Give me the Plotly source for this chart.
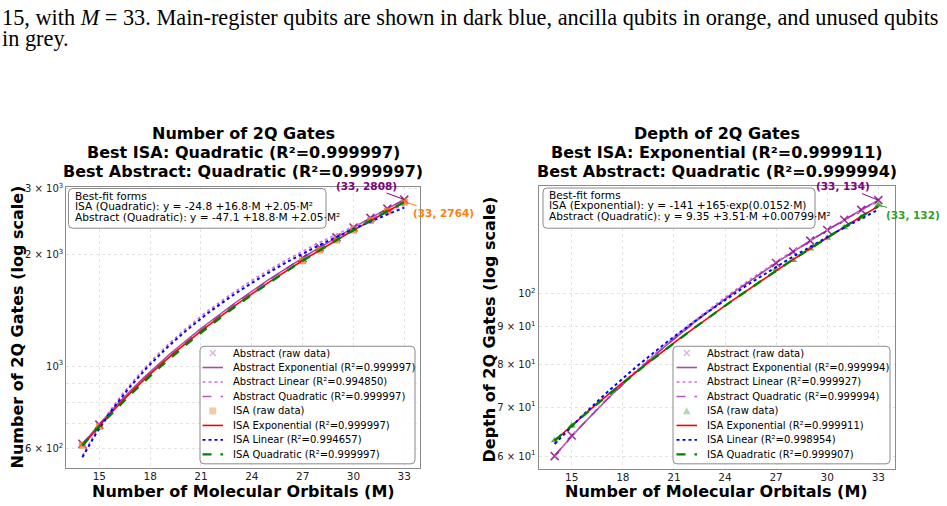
import numpy as np
import plotly.graph_objects as go

W, H = 947, 506

# ---------------- data ----------------
M = [14, 15, 27, 28, 29, 30, 31, 32, 33]
abstract_gates = [618, 696, 1955, 2087, 2222, 2362, 2506, 2654, 2808]
isa_gates = [612, 688, 1923, 2053, 2186, 2324, 2466, 2612, 2764]
abstract_depth = [60, 64, 110, 114, 118, 122, 126, 130, 134]
isa_depth = [63, 66, 108, 111, 115, 119, 123, 127, 132]

x_ticks = [15, 18, 21, 24, 27, 30, 33]
gates_ticks = [600, 1000, 2000, 3000]
gates_tick_text = ["6 × 10<sup>2</sup>", "10<sup>3</sup>", "2 × 10<sup>3</sup>", "3 × 10<sup>3</sup>"]
gates_minor = [700, 800, 900]
depth_ticks = [60, 70, 80, 90, 100]
depth_tick_text = ["6 × 10<sup>1</sup>", "7 × 10<sup>1</sup>", "8 × 10<sup>1</sup>", "9 × 10<sup>1</sup>", "10<sup>2</sup>"]

gates_r2 = ["0.999997", "0.994850", "0.999997", "0.999997", "0.994657", "0.999997"]
depth_r2 = ["0.999994", "0.999927", "0.999994", "0.999911", "0.998954", "0.999907"]

gates_titles = ["Number of 2Q Gates", "Best ISA: Quadratic (R²=0.999997)", "Best Abstract: Quadratic (R²=0.999997)"]
depth_titles = ["Depth of 2Q Gates", "Best ISA: Exponential (R²=0.999911)", "Best Abstract: Quadratic (R²=0.999994)"]
gates_forms = ["Best-fit forms", "ISA (Quadratic): y = -24.8 +16.8·M +2.05·M²", "Abstract (Quadratic): y = -47.1 +18.8·M +2.05·M²"]
depth_forms = ["Best-fit forms", "ISA (Exponential): y = -141 +165·exp(0.0152·M)", "Abstract (Quadratic): y = 9.35 +3.51·M +0.00799·M²"]

caption = ["15, with <i>M</i> = 33. Main-register qubits are shown in dark blue, ancilla qubits in orange, and unused qubits",
           "in grey."]

# ---------------- fits ----------------
Mx = np.array(M, dtype=float)
Mf = np.linspace(Mx.min(), Mx.max(), 300)


def fit_poly(y, deg):
    p = np.polyfit(Mx, np.array(y, float), deg)
    return np.polyval(p, Mf)


def fit_exp(y):
    y = np.array(y, float)
    best = None
    for c in np.linspace(0.0005, 0.3, 3000):
        A = np.column_stack([np.ones_like(Mx), np.exp(c * Mx)])
        coef, *_ = np.linalg.lstsq(A, y, rcond=None)
        sse = float(np.sum((A @ coef - y) ** 2))
        if best is None or sse < best[0]:
            best = (sse, c, coef)
    _, c, coef = best
    return coef[0] + coef[1] * np.exp(c * Mf)


def px(x):
    return x / W


def py(y):
    return 1 - y / H


FONT = "DejaVu Sans"

# colours
C_ABS_MK = "rgba(128,0,128,0.8)"
C_ABS_MK_LEG = "#dcb4e0"
C_ABS_EXP = "rgba(128,0,128,0.7)"
C_ABS_LIN = "#da70d6"
C_ABS_QUAD = "rgba(160,32,170,0.75)"
C_ISA_EXP = "red"
C_ISA_LIN = "blue"
C_ISA_QUAD = "green"

fig = go.Figure()

panels = [
    dict(xa="x", ya="y", abs=abstract_gates, isa=isa_gates, isa_mk="square",
         isa_col="rgba(240,128,40,0.75)", isa_leg="#f9c9a3"),
    dict(xa="x2", ya="y2", abs=abstract_depth, isa=isa_depth, isa_mk="triangle-up",
         isa_col="rgba(30,140,30,0.7)", isa_leg="#b3d8b3"),
]

for p in panels:
    fig.add_trace(go.Scatter(x=M, y=p["abs"], mode="markers", xaxis=p["xa"], yaxis=p["ya"],
                             marker=dict(symbol="x-thin", size=8, color=C_ABS_MK,
                                         line=dict(width=1.6, color=C_ABS_MK)),
                             name="Abstract (raw data)", showlegend=False))
    fig.add_trace(go.Scatter(x=Mf, y=fit_exp(p["abs"]), mode="lines", xaxis=p["xa"], yaxis=p["ya"],
                             line=dict(color=C_ABS_EXP, width=1.5), name="Abstract Exponential", showlegend=False))
    fig.add_trace(go.Scatter(x=Mf, y=fit_poly(p["abs"], 1), mode="lines", xaxis=p["xa"], yaxis=p["ya"],
                             line=dict(color=C_ABS_LIN, width=1.6, dash="dot"), name="Abstract Linear", showlegend=False))
    fig.add_trace(go.Scatter(x=Mf, y=fit_poly(p["abs"], 2), mode="lines", xaxis=p["xa"], yaxis=p["ya"],
                             line=dict(color=C_ABS_QUAD, width=1.5, dash="dash"), name="Abstract Quadratic", showlegend=False))
    fig.add_trace(go.Scatter(x=M, y=p["isa"], mode="markers", xaxis=p["xa"], yaxis=p["ya"],
                             marker=dict(symbol=p["isa_mk"], size=7, color=p["isa_col"]),
                             name="ISA (raw data)", showlegend=False))
    fig.add_trace(go.Scatter(x=Mf, y=fit_exp(p["isa"]), mode="lines", xaxis=p["xa"], yaxis=p["ya"],
                             line=dict(color=C_ISA_EXP, width=1.6), name="ISA Exponential", showlegend=False))
    fig.add_trace(go.Scatter(x=Mf, y=fit_poly(p["isa"], 1), mode="lines", xaxis=p["xa"], yaxis=p["ya"],
                             line=dict(color=C_ISA_LIN, width=2, dash="dot"), name="ISA Linear", showlegend=False))
    fig.add_trace(go.Scatter(x=Mf, y=fit_poly(p["isa"], 2), mode="lines", xaxis=p["xa"], yaxis=p["ya"],
                             line=dict(color=C_ISA_QUAD, width=2.4, dash="dash"), name="ISA Quadratic", showlegend=False))

# ---------------- axes ----------------
L = dict(x0=66.3, x1=420.4, top=184, bot=468)
R = dict(x0=538.5, x1=894.5, top=183.5, bot=469)

common_x = dict(range=[13.05, 33.95], tickvals=x_ticks, showgrid=True, gridcolor="#e3e3e3", griddash="dot",
                gridwidth=0.8, showline=True, mirror=True, linecolor="#8a8a8a", linewidth=1,
                ticks="", ticklabelstandoff=-2, tickfont=dict(family=FONT, size=10.5, color="#222"),
                zeroline=False)
common_y = dict(type="log", showgrid=True, gridcolor="#e3e3e3", griddash="dot", gridwidth=0.8,
                showline=True, mirror=True, linecolor="#8a8a8a", linewidth=1,
                ticks="", tickfont=dict(family=FONT, size=10, color="#222"),
                tickmode="array", zeroline=False)

fig.update_layout(
    width=W, height=H, margin=dict(l=0, r=0, t=0, b=0), paper_bgcolor="white", plot_bgcolor="white",
    showlegend=False,
    xaxis=dict(common_x, domain=[px(L["x0"]), px(L["x1"])], anchor="y"),
    yaxis=dict(common_y, domain=[py(L["bot"]), py(L["top"])], anchor="x",
               range=[2.72489, 3.48344], tickvals=gates_ticks, ticktext=gates_tick_text,
               minor=dict(tickmode="array", tickvals=gates_minor, ticks="",
                          showgrid=True, gridcolor="#e3e3e3", griddash="dot")),
    xaxis2=dict(common_x, domain=[px(R["x0"]), px(R["x1"])], anchor="y2"),
    yaxis2=dict(common_y, domain=[py(R["bot"]), py(R["top"])], anchor="x2",
                range=[1.76018, 2.14635], tickvals=depth_ticks, ticktext=depth_tick_text),
)

ann = []
shapes = []


def text(x, y, s, size=10, color="black", xanchor="left", bold=False, angle=0, family=FONT):
    ann.append(dict(x=px(x), y=py(y), xref="paper", yref="paper", text=("<b>%s</b>" % s) if bold else s,
                    showarrow=False, xanchor=xanchor, yanchor="middle", textangle=angle,
                    font=dict(family=family, size=size, color=color)))


def rounded_box(x0, y0, x1, y1, r=4, line="#8a8a8a"):
    rx, ry = r / W, r / H
    X0, X1 = px(x0), px(x1)
    Y0, Y1 = py(y0), py(y1)  # Y0 top (larger)
    path = (f"M {X0+rx},{Y0} L {X1-rx},{Y0} Q {X1},{Y0} {X1},{Y0-ry} L {X1},{Y1+ry} "
            f"Q {X1},{Y1} {X1-rx},{Y1} L {X0+rx},{Y1} Q {X0},{Y1} {X0},{Y1+ry} L {X0},{Y0-ry} "
            f"Q {X0},{Y0} {X0+rx},{Y0} Z")
    shapes.append(dict(type="path", path=path, xref="paper", yref="paper",
                       line=dict(color=line, width=1), fillcolor="rgba(255,255,255,0.85)", layer="above"))


# caption
text(0, 14, caption[0], size=22.3, family="Liberation Serif")
text(0, 35, caption[1], size=22.3, family="Liberation Serif")

# titles
for cx, titles in [((L["x0"] + L["x1"]) / 2, gates_titles), ((R["x0"] + R["x1"]) / 2, depth_titles)]:
    for i, t in enumerate(titles):
        text(cx, 130.5 + 19 * i, t, size=16, xanchor="center", bold=True)

# axis titles
text((L["x0"] + L["x1"]) / 2, 491, "Number of Molecular Orbitals (M)", size=16, xanchor="center", bold=True)
text((R["x0"] + R["x1"]) / 2, 491, "Number of Molecular Orbitals (M)", size=16, xanchor="center", bold=True)
text(17, 326, "Number of 2Q Gates (log scale)", size=16, xanchor="center", bold=True, angle=-90)
text(489, 328, "Depth of 2Q Gates (log scale)", size=16, xanchor="center", bold=True, angle=-90)

# best-fit boxes
rounded_box(68.5, 186, 326, 226)
for i, t in enumerate(gates_forms):
    text(72.5, 193.3 + 10.7 * i, t, size=10.6)
rounded_box(543, 185.5, 815, 226)
for i, t in enumerate(depth_forms):
    text(547, 192.7 + 10.4 * i, t, size=10.6)

# point labels
for xa, ya, yv, lab, col, axo, ayo in [
    ("x", "y", abstract_gates[-1], "(33, %d)" % abstract_gates[-1], "purple", -38, -14),
    ("x", "y", isa_gates[-1], "(33, %d)" % isa_gates[-1], "#ff7f0e", 39, 11),
    ("x2", "y2", abstract_depth[-1], "(33, %d)" % abstract_depth[-1], "purple", -35, -14),
    ("x2", "y2", isa_depth[-1], "(33, %d)" % isa_depth[-1], "#2ca02c", 35, 10),
]:
    ann.append(dict(x=M[-1], y=np.log10(yv), xref=xa, yref=ya, text="<b>%s</b>" % lab, showarrow=True,
                    arrowhead=0, arrowwidth=1, arrowcolor=col, ax=axo, ay=ayo, standoff=0,
                    font=dict(family=FONT, size=10.5, color=col)))

# legends (drawn manually)
legend_specs = [
    (200, 415, 230.5, 202.5, gates_r2, "square", "#f9c9a3"),
    (673, 890, 705, 676.5, depth_r2, "triangle", "#b3d8b3"),
]
line_styles = [(C_ABS_EXP, "solid", 1.6), (C_ABS_LIN, "dot", 1.6), (C_ABS_QUAD, "dash", 1.6),
               (C_ISA_EXP, "solid", 1.6), (C_ISA_LIN, "dot", 1.8), (C_ISA_QUAD, "dash", 2.2)]
names = ["Abstract Exponential", "Abstract Linear", "Abstract Quadratic",
         "ISA Exponential", "ISA Linear", "ISA Quadratic"]
for bx0, bx1, tx, sx, r2s, mk, mkcol in legend_specs:
    rounded_box(bx0, 345, bx1, 463.5)
    rows = [351.8 + 14.6 * i for i in range(8)]
    sw0, sw1 = sx, sx + 20.5
    cxm = (sw0 + sw1) / 2
    # Abstract raw marker (x)
    y0 = rows[0]
    for dy in (-3, 3):
        shapes.append(dict(type="line", xref="paper", yref="paper", x0=px(cxm - 3), x1=px(cxm + 3),
                           y0=py(y0 - dy), y1=py(y0 + dy), line=dict(color=C_ABS_MK_LEG, width=1.5), layer="above"))
    text(tx, y0, "Abstract (raw data)", size=10)
    # ISA raw marker
    y4 = rows[4]
    if mk == "square":
        shapes.append(dict(type="rect", xref="paper", yref="paper", x0=px(cxm - 3.5), x1=px(cxm + 3.5),
                           y0=py(y4 - 3.5), y1=py(y4 + 3.5), line=dict(width=0), fillcolor=mkcol, layer="above"))
    else:
        shapes.append(dict(type="path", xref="paper", yref="paper",
                           path=f"M {px(cxm-3.8)},{py(y4+3.2)} L {px(cxm+3.8)},{py(y4+3.2)} L {px(cxm)},{py(y4-3.8)} Z",
                           line=dict(width=0), fillcolor=mkcol, layer="above"))
    text(tx, y4, "ISA (raw data)", size=10)
    line_rows = [1, 2, 3, 5, 6, 7]
    for k, ri in enumerate(line_rows):
        col, dash, wd = line_styles[k]
        shapes.append(dict(type="line", xref="paper", yref="paper", x0=px(sw0), x1=px(sw1),
                           y0=py(rows[ri]), y1=py(rows[ri]), line=dict(color=col, width=wd, dash=dash), layer="above"))
        text(tx, rows[ri], "%s (R²=%s)" % (names[k], r2s[k]), size=10)

fig.update_layout(annotations=ann, shapes=shapes)
fig.write_html("out.html")
